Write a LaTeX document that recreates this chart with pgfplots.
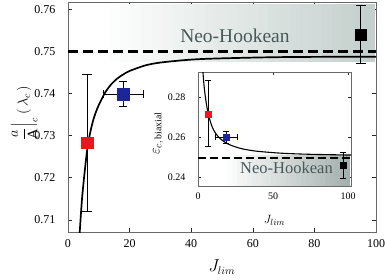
\documentclass[border=0pt]{standalone}
\usepackage{amsmath}
\usepackage{pgfplots}
\pgfplotsset{compat=1.18}
\usepackage{fontspec}
\setmainfont{Liberation Serif}
\definecolor{bandA}{RGB}{196,208,205}
\definecolor{bandB}{RGB}{165,177,174}
\definecolor{nhtext}{RGB}{72,88,88}
\definecolor{mred}{RGB}{232,22,32}
\definecolor{mblue}{RGB}{28,38,152}
\definecolor{framec}{RGB}{105,105,105}
\begin{document}
\begin{tikzpicture}
\useasboundingbox (-68pt,-47pt) rectangle (317pt,232pt);
\begin{axis}[
  name=main, at={(0,0)}, anchor=south west, scale only axis,
  width=308pt, height=230pt,
  xmin=0, xmax=100, ymin=0.7071, ymax=0.7618,
  xtick={0,20,40,60,80,100}, xticklabels={0,20,40,60,80,100},
  ytick={0.71,0.72,0.73,0.74,0.75,0.76},
  yticklabels={0.71,0.72,0.73,0.74,0.75,0.76},
  tick align=inside, major tick length=4.5pt,
  axis line style={framec, line width=0.8pt}, tick style={black!85, line width=0.6pt},
  every tick label/.append style={font=\fontsize{12}{14}\selectfont},
  xticklabel style={yshift=-4pt},
  yticklabel style={xshift=-9pt},
  xlabel={$J_{lim}$},
  xlabel style={at={(axis description cs:0.5,-0.152)}, anchor=center, font=\fontsize{16}{18}\selectfont},
  ylabel={$\dfrac{a}{\mathrm{A}}\Big|_{c}\ (\,\lambda_c\,)$},
  ylabel style={at={(axis description cs:-0.142,0.517)}, anchor=center, font=\fontsize{14.5}{17}\selectfont},
  clip=true,
]
% shaded band (stepped gradient)
\pgfplotsinvokeforeach{0,4,...,100}{
  \fill[bandA!#1!white] (axis cs:{10+0.86*#1},0.7475) rectangle (axis cs:{13.8+0.86*#1},0.7613);
}
% neo-hookean dashed
\addplot[black, line width=2.4pt, dash pattern=on 10pt off 5pt] coordinates {(0,0.75) (100,0.75)};
% model curve
\addplot[black, line width=1.7pt, smooth, tension=0.5] coordinates {
(3.6,0.704) (3.8,0.707) (4.5,0.7145) (5,0.7185) (5.5,0.722) (6.2,0.7265) (7,0.730) (8,0.7332) (9,0.7355) (10,0.7373) (12,0.7402) (14,0.7422) (16,0.7436) (18,0.7446) (20,0.7454) (25,0.7467) (30,0.7474) (40,0.7481) (50,0.7484) (70,0.7487) (100,0.7488)};
% data points
\addplot[only marks, mark=square*, mark size=5.7pt, mark options={fill=mred, draw=mred},
  error bars/.cd, y dir=both, y explicit,
  error bar style={black, line width=1pt}, error mark options={rotate=90, black, mark size=5pt, line width=1pt}]
  coordinates {(6.2,0.7283) += (0,0.0162) -= (0,0.0163)};
\addplot[only marks, mark=square*, mark size=6pt, mark options={fill=mblue, draw=mblue},
  error bars/.cd, y dir=both, y explicit, x dir=both, x explicit,
  error bar style={black, line width=1pt}, error mark options={rotate=90, black, mark size=4pt, line width=1pt}]
  coordinates {(17.9,0.7399) +- (6.5,0.003)};
\addplot[only marks, mark=square*, mark size=5.5pt, mark options={fill=black, draw=black},
  error bars/.cd, y dir=both, y explicit,
  error bar style={black, line width=1pt}, error mark options={rotate=90, black, mark size=5pt, line width=1pt}]
  coordinates {(95,0.7541) += (0,0.0068) -= (0,0.0069)};
\node[text=nhtext, font=\fontsize{19.5}{22}\selectfont] at (axis cs:54.2,0.7537) {Neo-Hookean};
\end{axis}
\begin{axis}[
  name=inset, at={(130pt,46pt)}, anchor=south west, scale only axis,
  width=153pt, height=114pt,
  xmin=0, xmax=102, ymin=0.2358, ymax=0.2928,
  xtick={0,50,100}, xticklabels={0,50,100},
  ytick={0.24,0.26,0.28}, yticklabels={0.24,0.26,0.28},
  tick align=inside, major tick length=3pt,
  axis background/.style={fill=white},
  axis line style={framec, line width=0.8pt}, tick style={black!85, line width=0.6pt},
  every tick label/.append style={font=\fontsize{10}{12}\selectfont},
  xticklabel style={yshift=-3pt},
  yticklabel style={xshift=-9pt},
  xlabel={$J_{lim}$},
  xlabel style={at={(axis description cs:0.5,-0.3)}, anchor=center, font=\fontsize{13}{15}\selectfont},
  ylabel={$\varepsilon_{c,\,\mathrm{biaxial}}$},
  ylabel style={at={(axis description cs:-0.26,0.46)}, anchor=center, font=\fontsize{14}{16}\selectfont},
]
\pgfplotsinvokeforeach{0,4,...,100}{
  \fill[bandB!#1!white] (axis cs:{16+0.82*#1},0.2358) rectangle (axis cs:{19.6+0.82*#1},0.2515);
}
\addplot[black, line width=1.8pt, dash pattern=on 8pt off 4pt] coordinates {(0,0.25) (102,0.25)};
\addplot[black, line width=1.1pt, smooth, tension=0.5] coordinates {
(3.0,0.2965) (3.3,0.2928) (4,0.2862) (4.9,0.2804) (6,0.2750) (7.1,0.2713) (8.5,0.2673) (10.4,0.2638) (13,0.2609) (15.9,0.2588) (20,0.2568) (24.8,0.2554) (30,0.2543) (38,0.2533) (48,0.2526) (58,0.2521) (75,0.25165) (100,0.2513) (102,0.2513)};
\addplot[only marks, mark=square*, mark size=3pt, mark options={fill=mred, draw=mred},
  error bars/.cd, y dir=both, y explicit,
  error bar style={black, line width=0.8pt}, error mark options={rotate=90, black, mark size=3pt, line width=0.8pt}]
  coordinates {(6.6,0.2717) += (0,0.0167) -= (0,0.0163)};
\addplot[only marks, mark=square*, mark size=3.2pt, mark options={fill=mblue, draw=mblue},
  error bars/.cd, y dir=both, y explicit, x dir=both, x explicit,
  error bar style={black, line width=0.8pt}, error mark options={rotate=90, black, mark size=3pt, line width=0.8pt}]
  coordinates {(18.8,0.2601) +- (7.2,0.003)};
\addplot[only marks, mark=square*, mark size=3pt, mark options={fill=black, draw=black},
  error bars/.cd, y dir=both, y explicit,
  error bar style={black, line width=0.8pt}, error mark options={rotate=90, black, mark size=3pt, line width=0.8pt}]
  coordinates {(96.7,0.2463) += (0,0.0063) -= (0,0.0068)};
\node[text=nhtext, font=\fontsize{16.5}{19}\selectfont] at (axis cs:59,0.245) {Neo-Hookean};
\end{axis}
\end{tikzpicture}
\end{document}
